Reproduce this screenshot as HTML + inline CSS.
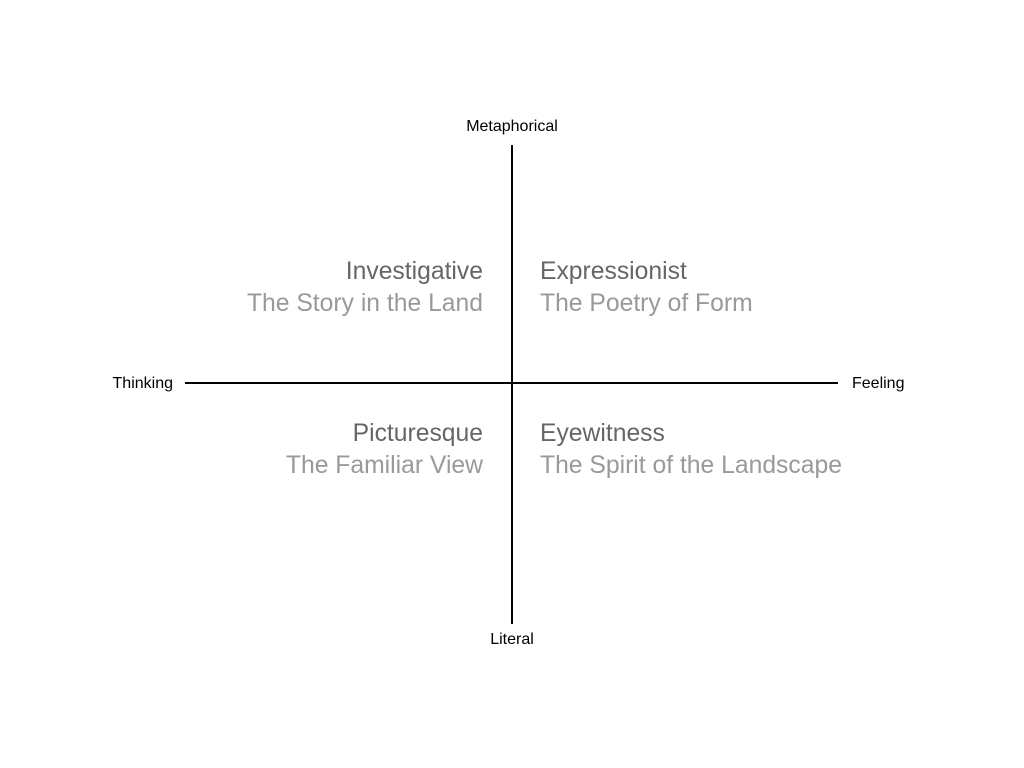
<!DOCTYPE html>
<html><head><meta charset="utf-8"><style>
html,body{margin:0;padding:0;background:#fff;width:1024px;height:768px;overflow:hidden;font-family:"Liberation Sans",sans-serif;}
.a{position:absolute;white-space:nowrap;}
.s{font-size:16px;color:#000;line-height:18px;}
.t{font-size:24.7px;line-height:28px;}
.h{color:#666;}
.g{color:#999;}
.r{text-align:right;right:541px;}
.l{left:540px;}
</style></head><body>
<div class="a" style="left:511px;top:145px;width:2px;height:479px;background:#000"></div>
<div class="a" style="left:185px;top:382px;width:653px;height:2px;background:#000"></div>
<div class="a s" style="left:412px;width:200px;text-align:center;top:118px">Metaphorical</div>
<div class="a s" style="left:412px;width:200px;text-align:center;top:631px">Literal</div>
<div class="a s" style="right:851px;text-align:right;top:375px">Thinking</div>
<div class="a s" style="left:852px;top:375px">Feeling</div>
<div class="a t h r" style="top:258px">Investigative</div>
<div class="a t g r" style="top:290px">The Story in the Land</div>
<div class="a t h l" style="top:258px">Expressionist</div>
<div class="a t g l" style="top:290px">The Poetry of Form</div>
<div class="a t h r" style="top:420px">Picturesque</div>
<div class="a t g r" style="top:452px">The Familiar View</div>
<div class="a t h l" style="top:420px">Eyewitness</div>
<div class="a t g l" style="top:452px">The Spirit of the Landscape</div>
</body></html>
